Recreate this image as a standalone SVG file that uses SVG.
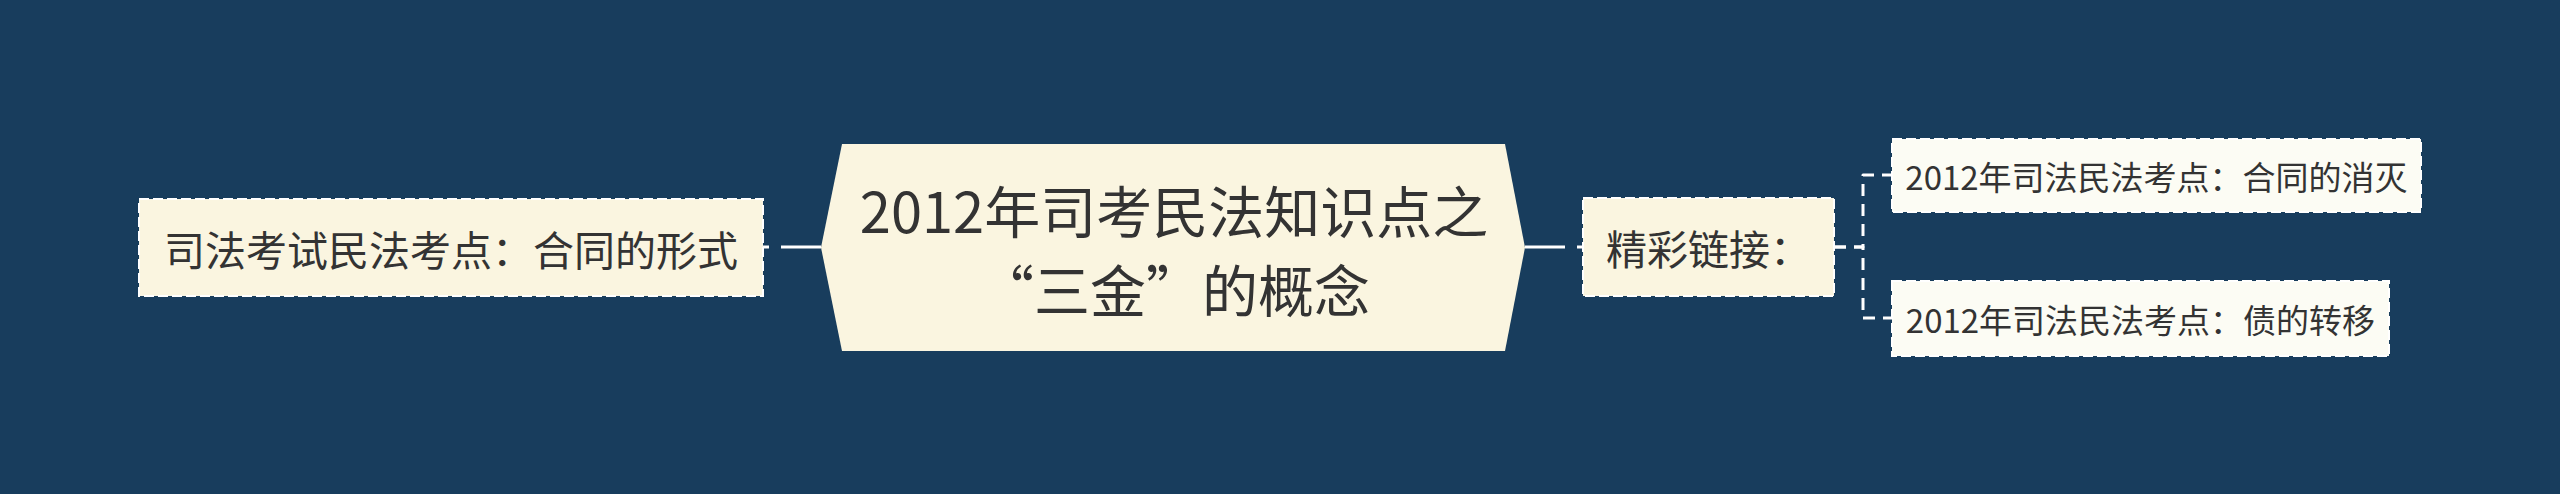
<svg xmlns="http://www.w3.org/2000/svg" width="2560" height="494" viewBox="0 0 2560 494">
<style>
.t{font-family:"Noto Sans CJK SC","Noto Sans",sans-serif;fill:#333333;text-anchor:middle;dominant-baseline:central}
.box{fill:#faf5e0;stroke:#ffffff;stroke-width:2;stroke-dasharray:10 4}
.sub{fill:#fcfcf4;stroke:#ffffff;stroke-width:2;stroke-dasharray:10 4}
.ln{fill:none;stroke:#ffffff;stroke-width:3}
.dl{fill:none;stroke:#ffffff;stroke-width:3;stroke-dasharray:12 8;stroke-linejoin:round}
</style>
<rect x="0" y="0" width="2560" height="494" fill="#183d5d"/>
<g id="connectors">
<path class="ln" d="M821,247 H763" stroke-dasharray="40 12"/>
<path class="ln" d="M1525,247 H1583" stroke-dasharray="40 12"/>
<path class="dl" d="M1834,247 H1863 V175 H1892"/>
<path class="dl" d="M1834,247 H1863 V318 H1892"/>
</g>
<g id="center">
<polygon points="842,144 1505,144 1525,247.5 1505,351 842,351 821,247.5" fill="#faf5e0"/>
<text class="t" x="1174" y="208" font-size="56">2012年司考民法知识点之</text>
<text class="t" x="1174" y="287" font-size="56">“三金”的概念</text>
</g>
<g id="left">
<rect class="box" x="139" y="199" width="624" height="97"/>
<text class="t" x="451" y="247.5" font-size="41">司法考试民法考点：合同的形式</text>
</g>
<g id="links">
<rect class="box" x="1583" y="198" width="251" height="98"/>
<text class="t" x="1708.5" y="247" font-size="41">精彩链接：</text>
</g>
<g id="sub1">
<rect class="sub" x="1892" y="139" width="529" height="73"/>
<text class="t" x="2156.5" y="175.5" font-size="33">2012年司法民法考点：合同的消灭</text>
</g>
<g id="sub2">
<rect class="sub" x="1892" y="281" width="497" height="75"/>
<text class="t" x="2140.5" y="318.5" font-size="33">2012年司法民法考点：债的转移</text>
</g>
</svg>
